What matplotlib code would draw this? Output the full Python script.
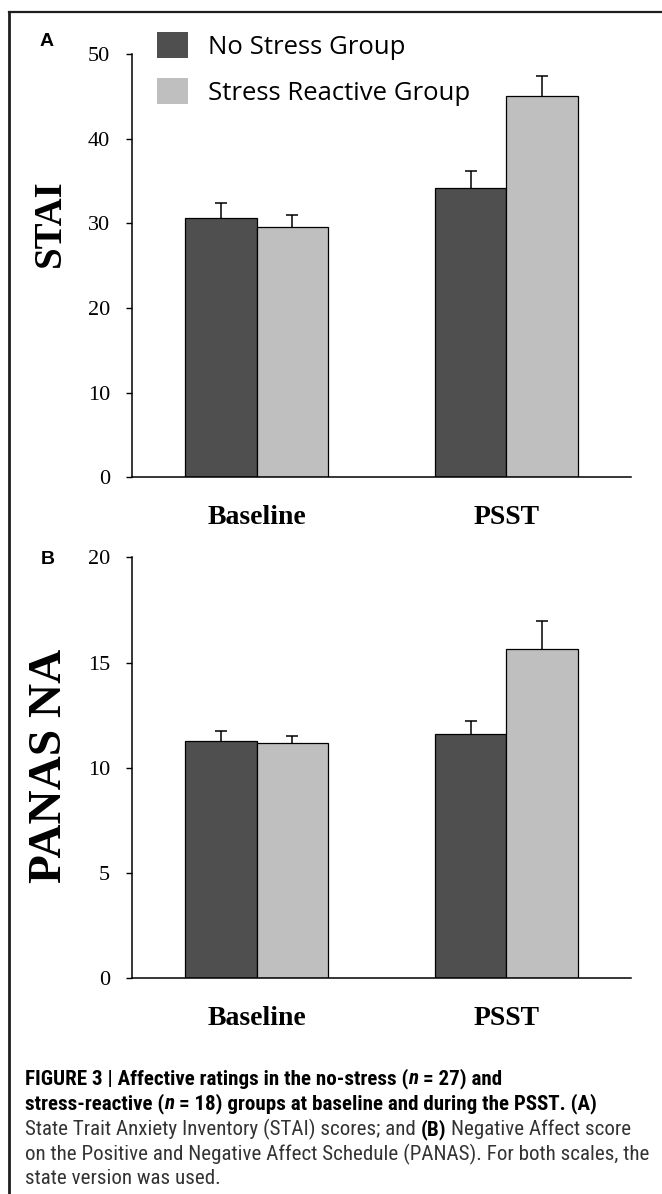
import numpy as np
import matplotlib
matplotlib.use("Agg")
import matplotlib.pyplot as plt
from matplotlib.patches import Patch
from matplotlib.lines import Line2D
from matplotlib import font_manager
from matplotlib.transforms import IdentityTransform

# ---- data ----
groups = ["Baseline", "PSST"]
series = ["No Stress Group", "Stress Reactive Group"]

stai_no_stress = [30.65, 34.2]
stai_no_stress_err = [1.75, 2.0]
stai_reactive = [29.55, 45.0]
stai_reactive_err = [1.45, 2.4]

panas_no_stress = [11.26, 11.59]
panas_no_stress_err = [0.50, 0.62]
panas_reactive = [11.16, 15.63]
panas_reactive_err = [0.35, 1.36]

stai_ticks = [0, 10, 20, 30, 40, 50]
panas_ticks = [0, 5, 10, 15, 20]

caption_lines = [
    [("FIGURE 3 | Affective ratings in the no-stress (", "bold", "normal", False),
     ("n", "bold", "italic", False),
     ("= 27) and", "bold", "normal", True)],
    [("stress-reactive (", "bold", "normal", False),
     ("n", "bold", "italic", False),
     ("= 18) groups at baseline and during the PSST. (A)", "bold", "normal", True)],
    [("State Trait Anxiety Inventory (STAI) scores; and", "normal", "normal", False),
     ("(B)", "bold", "normal", True),
     ("Negative Affect score", "normal", "normal", True)],
    [("on the Positive and Negative Affect Schedule (PANAS). For both scales, the",
      "normal", "normal", False)],
    [("state version was used.", "normal", "normal", False)],
]

DARK = "#4f4f4f"
LIGHT = "#bfbfbf"
W, H = 662, 1194

names = {f.name for f in font_manager.fontManager.ttflist}
cap_font = next(n for n in ["Liberation Sans Narrow", "Roboto Condensed",
                            "Open Sans Condensed", "Liberation Sans"] if n in names)
SERIF = "Liberation Serif"

fig = plt.figure(figsize=(W / 100, H / 100), dpi=100)


def fx(px):
    return px / W


def fy(py):
    return 1 - py / H


def bar_panel(rect, no_vals, no_err, re_vals, re_err, ticks):
    ax = fig.add_axes(rect)
    x = np.arange(len(groups))
    w = 0.286
    ekw = dict(ecolor="black", elinewidth=1.1, capsize=4, capthick=1.1)
    for offs, vals, err, col in [(-w / 2, no_vals, no_err, DARK),
                                 (w / 2, re_vals, re_err, LIGHT)]:
        bars = ax.bar(x + offs, vals, w, yerr=[np.zeros(len(x)), err],
                      color=col, edgecolor="black", linewidth=0.9, error_kw=ekw)
        # only the upper half of the error bar is shown
        caps = bars.errorbar.lines[1]
        caps[0].set_visible(False)
    ax.set_xlim(-0.5, 1.5)
    ax.set_ylim(ticks[0], ticks[-1])
    ax.set_yticks(ticks)
    ax.set_xticks(x)
    ax.set_xticklabels(groups, family=SERIF, fontweight="bold", fontsize=20)
    for lab in ax.get_yticklabels():
        lab.set_family(SERIF)
    ax.spines["top"].set_visible(False)
    ax.spines["right"].set_visible(False)
    ax.spines["left"].set_linewidth(1.1)
    ax.spines["bottom"].set_linewidth(1.1)
    ax.tick_params(axis="y", direction="out", length=4.3, width=1.0,
                   labelsize=16, pad=11.5)
    ax.tick_params(axis="x", length=0, pad=20)
    return ax


ax_a = bar_panel([0.1994, 0.6003, 0.7538, 0.3545], stai_no_stress, stai_no_stress_err,
                 stai_reactive, stai_reactive_err, stai_ticks)
ax_b = bar_panel([0.1994, 0.1809, 0.7538, 0.3523], panas_no_stress, panas_no_stress_err,
                 panas_reactive, panas_reactive_err, panas_ticks)

# legend (plain squares, no edge)
handles = [Patch(facecolor=DARK, edgecolor="none"), Patch(facecolor=LIGHT, edgecolor="none")]
ax_a.legend(handles, series, loc="upper left", bbox_to_anchor=(fx(157), fy(32)),
            bbox_transform=fig.transFigure, frameon=False, borderpad=0, borderaxespad=0,
            handlelength=1.2, handleheight=1.2, handletextpad=0.8, labelspacing=0.7,
            prop=dict(family="Open Sans", size=18.5))

# axis titles and panel letters
fig.text(fx(50), fy(223.5), "STAI", rotation=90, ha="center", va="center",
         family=SERIF, fontweight="bold", fontsize=28)
fig.text(fx(50), fy(766), "PANAS NA", rotation=90, ha="center", va="center",
         family=SERIF, fontweight="bold", fontsize=34)
fig.text(fx(47), fy(42), "A", ha="center", va="center", family="Liberation Sans",
         fontweight="bold", fontsize=14)
fig.text(fx(48), fy(559), "B", ha="center", va="center", family="Liberation Sans",
         fontweight="bold", fontsize=14)

# outer frame (left and top edges visible)
fig.add_artist(Line2D([fx(9), fx(9)], [0, fy(12)], transform=fig.transFigure,
                      color="#1e1e1e", linewidth=2.0))
fig.add_artist(Line2D([fx(9), 1], [fy(12), fy(12)], transform=fig.transFigure,
                      color="#1e1e1e", linewidth=1.6))

# caption, sized so the widest line spans the frame
renderer = fig.canvas.get_renderer()
probe = fig.text(0, 0, caption_lines[3][0][0], family=cap_font, fontsize=10)
scale = 618 / probe.get_window_extent(renderer).width
probe.remove()
cap_size = 10 * scale


def text_width(s, weight, style):
    t = fig.text(0, 0, s, family=cap_font, fontsize=cap_size, fontweight=weight,
                 fontstyle=style)
    wdt = t.get_window_extent(renderer).width
    t.remove()
    return wdt


baselines = [1084, 1109, 1135, 1160, 1184]
for line, base in zip(caption_lines, baselines):
    xpos = 25
    for text, weight, style, space in line:
        if space:
            xpos += text_width("a a", weight, style) - text_width("aa", weight, style)
        color = "black" if weight == "bold" else "#333333"
        t = fig.text(xpos, H - base, text, family=cap_font, fontsize=cap_size,
                     fontweight=weight, fontstyle=style, color=color,
                     va="baseline", ha="left", transform=IdentityTransform())
        xpos += t.get_window_extent(renderer).width

fig.savefig("out.png", dpi=100)
